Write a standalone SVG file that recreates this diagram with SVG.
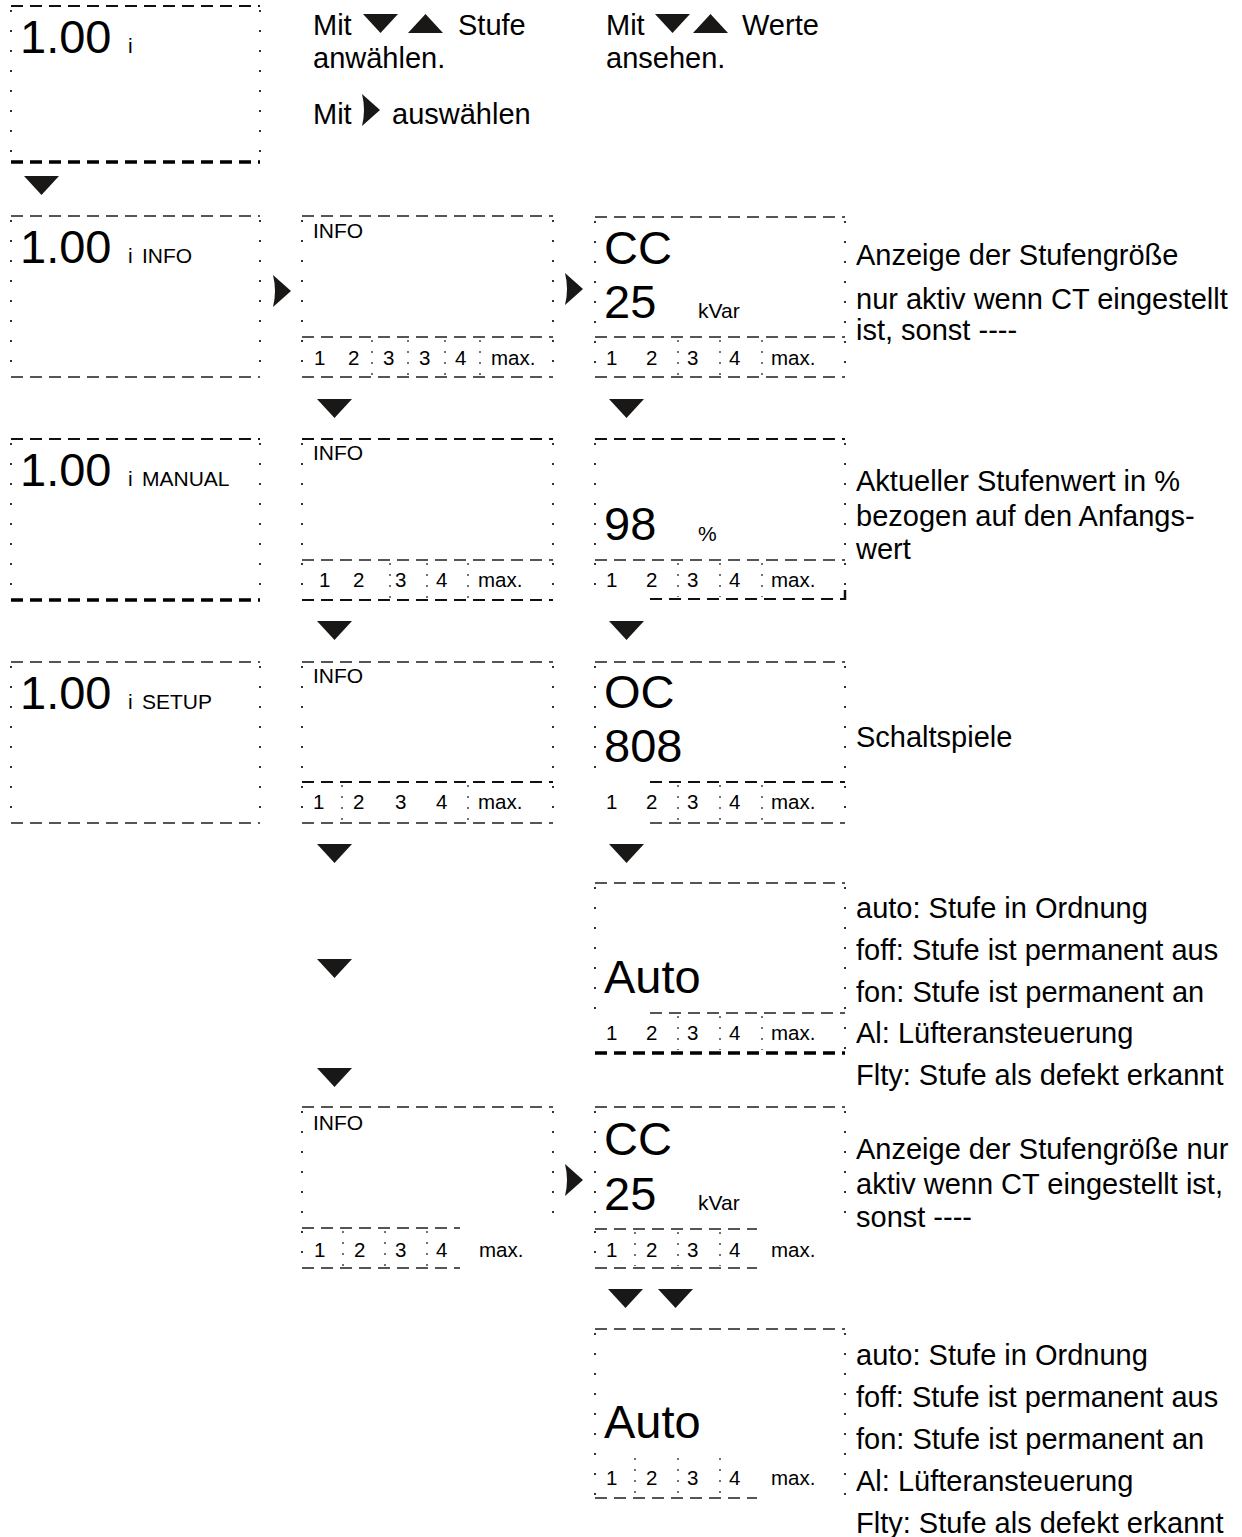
<svg xmlns="http://www.w3.org/2000/svg" width="1242" height="1537" viewBox="0 0 1242 1537">
  <style>
    text { font-family: "Liberation Sans", Arial, sans-serif; fill: #000; }
    .big { font-size: 47px; }
    .sm { font-size: 21px; }
    .num { font-size: 20.5px; }
    .desc { font-size: 29px; }
    .dash { stroke: #555; stroke-width: 2; stroke-dasharray: 12 7; fill: none; }
    .dashk { stroke: #111; stroke-width: 2; stroke-dasharray: 12 7; fill: none; }
    .thick { stroke: #000; stroke-width: 3.5; stroke-dasharray: 12 7; fill: none; }
    .dot { stroke: #333; stroke-width: 2; stroke-dasharray: 2 18; fill: none; }
    .sep { stroke: #444; stroke-width: 1.5; stroke-dasharray: 2 9; fill: none; }
    .tri { fill: #1a1717; }
  </style>
  <defs>
    <path id="tdown" class="tri" d="M0 0 L35 0 L17.5 19 Z"/>
    <path id="tup" class="tri" d="M0 19 L35 19 L17.5 0 Z"/>
    <path id="tright" class="tri" d="M0 0 Q4 16 0 32 L18 16 Z"/>
  </defs>

  <!-- header instructions -->
  <g id="hint-select">
    <text class="desc" x="313" y="35">Mit</text>
    <use href="#tdown" x="363" y="14"/>
    <use href="#tup" x="408" y="14"/>
    <text class="desc" x="458" y="35">Stufe</text>
    <text class="desc" x="313" y="68">anwählen.</text>
    <text class="desc" x="313" y="124">Mit</text>
    <use href="#tright" x="362" y="94"/>
    <text class="desc" x="392" y="124">auswählen</text>
  </g>
  <g id="hint-view">
    <text class="desc" x="606" y="35">Mit</text>
    <use href="#tdown" x="655" y="14"/>
    <use href="#tup" x="693" y="14"/>
    <text class="desc" x="742" y="35">Werte</text>
    <text class="desc" x="606" y="68">ansehen.</text>
  </g>

  <!-- column 1 -->
  <g id="start">
    <line class="dashk" x1="11" y1="6" x2="260" y2="6"/>
    <line class="thick" x1="11" y1="162" x2="260" y2="162"/>
    <line class="dot" x1="11" y1="10" x2="11" y2="160"/>
    <line class="dot" x1="260" y1="10" x2="260" y2="160"/>
    <text class="big" x="20" y="53">1.00</text>
    <text class="sm" x="128" y="53">i</text>
  </g>
  <g id="menu-info">
    <line class="dash" x1="11" y1="216" x2="260" y2="216"/>
    <line class="dash" x1="11" y1="377" x2="260" y2="377"/>
    <line class="dot" x1="11" y1="220" x2="11" y2="375"/>
    <line class="dot" x1="260" y1="220" x2="260" y2="375"/>
    <text class="big" x="20" y="263">1.00</text>
    <text class="sm" x="128" y="263">i</text>
    <text class="sm" x="142" y="263">INFO</text>
  </g>
  <g id="menu-manual">
    <line class="dashk" x1="11" y1="439" x2="260" y2="439"/>
    <line class="thick" x1="11" y1="600" x2="260" y2="600"/>
    <line class="dot" x1="11" y1="443" x2="11" y2="598"/>
    <line class="dot" x1="260" y1="443" x2="260" y2="598"/>
    <text class="big" x="20" y="486">1.00</text>
    <text class="sm" x="128" y="486">i</text>
    <text class="sm" x="142" y="486">MANUAL</text>
  </g>
  <g id="menu-setup">
    <line class="dash" x1="11" y1="662" x2="260" y2="662"/>
    <line class="dash" x1="11" y1="823" x2="260" y2="823"/>
    <line class="dot" x1="11" y1="666" x2="11" y2="821"/>
    <line class="dot" x1="260" y1="666" x2="260" y2="821"/>
    <text class="big" x="20" y="709">1.00</text>
    <text class="sm" x="128" y="709">i</text>
    <text class="sm" x="142" y="709">SETUP</text>
  </g>

  <!-- column 2 -->
  <g id="info-steps-1">
    <line class="dash" x1="302" y1="216" x2="553" y2="216"/>
    <line class="dash" x1="302" y1="337" x2="553" y2="337"/>
    <line class="dash" x1="302" y1="377" x2="553" y2="377"/>
    <line class="dot" x1="302" y1="220" x2="302" y2="375"/>
    <line class="dot" x1="553" y1="220" x2="553" y2="375"/>
    <line class="sep" x1="372" y1="340" x2="372" y2="375"/>
    <line class="sep" x1="408" y1="340" x2="408" y2="375"/>
    <line class="sep" x1="445" y1="340" x2="445" y2="375"/>
    <line class="sep" x1="480" y1="340" x2="480" y2="375"/>
    <text class="sm" x="313" y="238">INFO</text>
    <text class="num" x="314" y="365">1</text>
    <text class="num" x="348" y="365">2</text>
    <text class="num" x="383" y="365">3</text>
    <text class="num" x="419" y="365">3</text>
    <text class="num" x="455" y="365">4</text>
    <text class="num" x="491" y="365">max.</text>
  </g>
  <g id="info-steps-2">
    <line class="dashk" x1="302" y1="439" x2="553" y2="439"/>
    <line class="dash" x1="302" y1="560" x2="553" y2="560"/>
    <line class="dashk" x1="302" y1="600" x2="553" y2="600"/>
    <line class="dot" x1="302" y1="443" x2="302" y2="598"/>
    <line class="dot" x1="553" y1="443" x2="553" y2="598"/>
    <line class="sep" x1="390" y1="563" x2="390" y2="598"/>
    <line class="sep" x1="427" y1="563" x2="427" y2="598"/>
    <line class="sep" x1="468" y1="563" x2="468" y2="598"/>
    <text class="sm" x="313" y="460">INFO</text>
    <text class="num" x="319" y="587">1</text>
    <text class="num" x="353" y="587">2</text>
    <text class="num" x="395" y="587">3</text>
    <text class="num" x="436" y="587">4</text>
    <text class="num" x="478" y="587">max.</text>
  </g>
  <g id="info-steps-3">
    <line class="dash" x1="302" y1="662" x2="553" y2="662"/>
    <line class="dashk" x1="302" y1="782" x2="553" y2="782"/>
    <line class="dash" x1="302" y1="823" x2="553" y2="823"/>
    <line class="dot" x1="302" y1="666" x2="302" y2="821"/>
    <line class="dot" x1="553" y1="666" x2="553" y2="821"/>
    <line class="sep" x1="342" y1="785" x2="342" y2="821"/>
    <line class="sep" x1="468" y1="785" x2="468" y2="821"/>
    <text class="sm" x="313" y="683">INFO</text>
    <text class="num" x="313" y="809">1</text>
    <text class="num" x="353" y="809">2</text>
    <text class="num" x="395" y="809">3</text>
    <text class="num" x="436" y="809">4</text>
    <text class="num" x="478" y="809">max.</text>
  </g>
  <g id="info-steps-4">
    <line class="dash" x1="302" y1="1107" x2="553" y2="1107"/>
    <line class="dash" x1="302" y1="1228" x2="460" y2="1228"/>
    <line class="dash" x1="302" y1="1268" x2="460" y2="1268"/>
    <line class="dot" x1="302" y1="1111" x2="302" y2="1266"/>
    <line class="dot" x1="553" y1="1111" x2="553" y2="1226"/>
    <line class="sep" x1="343" y1="1231" x2="343" y2="1266"/>
    <line class="sep" x1="385" y1="1231" x2="385" y2="1266"/>
    <line class="sep" x1="427" y1="1231" x2="427" y2="1266"/>
    <text class="sm" x="313" y="1130">INFO</text>
    <text class="num" x="314" y="1257">1</text>
    <text class="num" x="354" y="1257">2</text>
    <text class="num" x="395" y="1257">3</text>
    <text class="num" x="436" y="1257">4</text>
    <text class="num" x="479" y="1257">max.</text>
  </g>

  <!-- column 3 -->
  <g id="value-size-1">
    <line class="dash" x1="595" y1="217" x2="845" y2="217"/>
    <line class="dash" x1="595" y1="337" x2="845" y2="337"/>
    <line class="dash" x1="595" y1="377" x2="845" y2="377"/>
    <line class="dot" x1="595" y1="221" x2="595" y2="375"/>
    <line class="dot" x1="845" y1="221" x2="845" y2="375"/>
    <line class="sep" x1="678" y1="340" x2="678" y2="375"/>
    <line class="sep" x1="720" y1="340" x2="720" y2="375"/>
    <line class="sep" x1="762" y1="340" x2="762" y2="375"/>
    <text class="big" x="604" y="264">CC</text>
    <text class="big" x="604" y="318">25</text>
    <text class="sm" x="698" y="318">kVar</text>
    <text class="num" x="606" y="365">1</text>
    <text class="num" x="646" y="365">2</text>
    <text class="num" x="687" y="365">3</text>
    <text class="num" x="729" y="365">4</text>
    <text class="num" x="771" y="365">max.</text>
  </g>
  <g id="value-percent">
    <line class="dashk" x1="595" y1="439" x2="845" y2="439"/>
    <line class="dash" x1="595" y1="560" x2="845" y2="560"/>
    <line class="dashk" x1="650" y1="599" x2="845" y2="599"/>
    <line class="dashk" x1="845" y1="590" x2="845" y2="600" style="stroke-dasharray:none;stroke-width:2.5"/>
    <line class="dot" x1="595" y1="443" x2="595" y2="598"/>
    <line class="dot" x1="845" y1="443" x2="845" y2="585"/>
    <line class="sep" x1="678" y1="563" x2="678" y2="597"/>
    <line class="sep" x1="720" y1="563" x2="720" y2="597"/>
    <line class="sep" x1="762" y1="563" x2="762" y2="597"/>
    <text class="big" x="604" y="540">98</text>
    <text class="sm" x="698" y="541">%</text>
    <text class="num" x="606" y="587">1</text>
    <text class="num" x="646" y="587">2</text>
    <text class="num" x="687" y="587">3</text>
    <text class="num" x="729" y="587">4</text>
    <text class="num" x="771" y="587">max.</text>
  </g>
  <g id="value-switching">
    <line class="dash" x1="595" y1="662" x2="845" y2="662"/>
    <line class="dashk" x1="650" y1="782" x2="845" y2="782"/>
    <line class="dash" x1="650" y1="823" x2="845" y2="823"/>
    <line class="dot" x1="595" y1="666" x2="595" y2="780"/>
    <line class="dot" x1="845" y1="666" x2="845" y2="821"/>
    <line class="sep" x1="678" y1="785" x2="678" y2="821"/>
    <line class="sep" x1="720" y1="785" x2="720" y2="821"/>
    <line class="sep" x1="762" y1="785" x2="762" y2="821"/>
    <text class="big" x="604" y="708">OC</text>
    <text class="big" x="604" y="762">808</text>
    <text class="num" x="606" y="809">1</text>
    <text class="num" x="646" y="809">2</text>
    <text class="num" x="687" y="809">3</text>
    <text class="num" x="729" y="809">4</text>
    <text class="num" x="771" y="809">max.</text>
  </g>
  <g id="value-state-1">
    <line class="dash" x1="595" y1="883" x2="845" y2="883"/>
    <line class="dash" x1="650" y1="1013" x2="845" y2="1013"/>
    <line class="thick" x1="595" y1="1053" x2="845" y2="1053"/>
    <line class="dot" x1="595" y1="887" x2="595" y2="1010"/>
    <line class="dot" x1="845" y1="887" x2="845" y2="1050"/>
    <line class="sep" x1="678" y1="1016" x2="678" y2="1050"/>
    <line class="sep" x1="720" y1="1016" x2="720" y2="1050"/>
    <line class="sep" x1="762" y1="1016" x2="762" y2="1050"/>
    <text class="big" x="604" y="993">Auto</text>
    <text class="num" x="606" y="1040">1</text>
    <text class="num" x="646" y="1040">2</text>
    <text class="num" x="687" y="1040">3</text>
    <text class="num" x="729" y="1040">4</text>
    <text class="num" x="771" y="1040">max.</text>
  </g>
  <g id="value-size-2">
    <line class="dash" x1="595" y1="1107" x2="845" y2="1107"/>
    <line class="dash" x1="595" y1="1229" x2="757" y2="1229"/>
    <line class="dash" x1="595" y1="1268" x2="757" y2="1268"/>
    <line class="dot" x1="595" y1="1111" x2="595" y2="1266"/>
    <line class="dot" x1="845" y1="1111" x2="845" y2="1226"/>
    <line class="sep" x1="635" y1="1232" x2="635" y2="1266"/>
    <line class="sep" x1="678" y1="1232" x2="678" y2="1266"/>
    <line class="sep" x1="720" y1="1232" x2="720" y2="1266"/>
    <text class="big" x="604" y="1155">CC</text>
    <text class="big" x="604" y="1210">25</text>
    <text class="sm" x="698" y="1210">kVar</text>
    <text class="num" x="606" y="1257">1</text>
    <text class="num" x="646" y="1257">2</text>
    <text class="num" x="687" y="1257">3</text>
    <text class="num" x="729" y="1257">4</text>
    <text class="num" x="771" y="1257">max.</text>
  </g>
  <g id="value-state-2">
    <line class="dash" x1="595" y1="1329" x2="845" y2="1329"/>
    <line class="dash" x1="595" y1="1498" x2="757" y2="1498"/>
    <line class="dot" x1="595" y1="1333" x2="595" y2="1496"/>
    <line class="dot" x1="845" y1="1333" x2="845" y2="1496"/>
    <line class="sep" x1="635" y1="1458" x2="635" y2="1495"/>
    <line class="sep" x1="678" y1="1458" x2="678" y2="1495"/>
    <line class="sep" x1="720" y1="1458" x2="720" y2="1495"/>
    <text class="big" x="604" y="1438">Auto</text>
    <text class="num" x="606" y="1485">1</text>
    <text class="num" x="646" y="1485">2</text>
    <text class="num" x="687" y="1485">3</text>
    <text class="num" x="729" y="1485">4</text>
    <text class="num" x="771" y="1485">max.</text>
  </g>

  <!-- descriptions -->
  <g id="desc-size-1">
    <text class="desc" x="856" y="265">Anzeige der Stufengröße</text>
    <text class="desc" x="856" y="309">nur aktiv wenn CT eingestellt</text>
    <text class="desc" x="856" y="340">ist, sonst ----</text>
  </g>
  <g id="desc-percent">
    <text class="desc" x="856" y="491">Aktueller Stufenwert in %</text>
    <text class="desc" x="856" y="526">bezogen auf den Anfangs-</text>
    <text class="desc" x="856" y="559">wert</text>
  </g>
  <g id="desc-switching">
    <text class="desc" x="856" y="747">Schaltspiele</text>
  </g>
  <g id="desc-state-1">
    <text class="desc" x="856" y="918">auto: Stufe in Ordnung</text>
    <text class="desc" x="856" y="960">foff: Stufe ist permanent aus</text>
    <text class="desc" x="856" y="1002">fon: Stufe ist permanent an</text>
    <text class="desc" x="856" y="1043">Al: Lüfteransteuerung</text>
    <text class="desc" x="856" y="1085">Flty: Stufe als defekt erkannt</text>
  </g>
  <g id="desc-size-2">
    <text class="desc" x="856" y="1159">Anzeige der Stufengröße nur</text>
    <text class="desc" x="856" y="1194">aktiv wenn CT eingestellt ist,</text>
    <text class="desc" x="856" y="1227">sonst ----</text>
  </g>
  <g id="desc-state-2">
    <text class="desc" x="856" y="1365">auto: Stufe in Ordnung</text>
    <text class="desc" x="856" y="1407">foff: Stufe ist permanent aus</text>
    <text class="desc" x="856" y="1449">fon: Stufe ist permanent an</text>
    <text class="desc" x="856" y="1491">Al: Lüfteransteuerung</text>
    <text class="desc" x="856" y="1533">Flty: Stufe als defekt erkannt</text>
  </g>

  <!-- navigation arrows -->
  <g id="connectors">
    <use href="#tdown" x="24" y="176"/>
    <use href="#tright" x="273" y="275"/>
    <use href="#tright" x="565" y="273"/>
    <use href="#tdown" x="317" y="399"/>
    <use href="#tdown" x="609" y="399"/>
    <use href="#tdown" x="317" y="621"/>
    <use href="#tdown" x="609" y="621"/>
    <use href="#tdown" x="317" y="844"/>
    <use href="#tdown" x="609" y="844"/>
    <use href="#tdown" x="317" y="959"/>
    <use href="#tdown" x="317" y="1068"/>
    <use href="#tright" x="565" y="1164"/>
    <use href="#tdown" x="608" y="1289"/>
    <use href="#tdown" x="658" y="1289"/>
  </g>
</svg>
